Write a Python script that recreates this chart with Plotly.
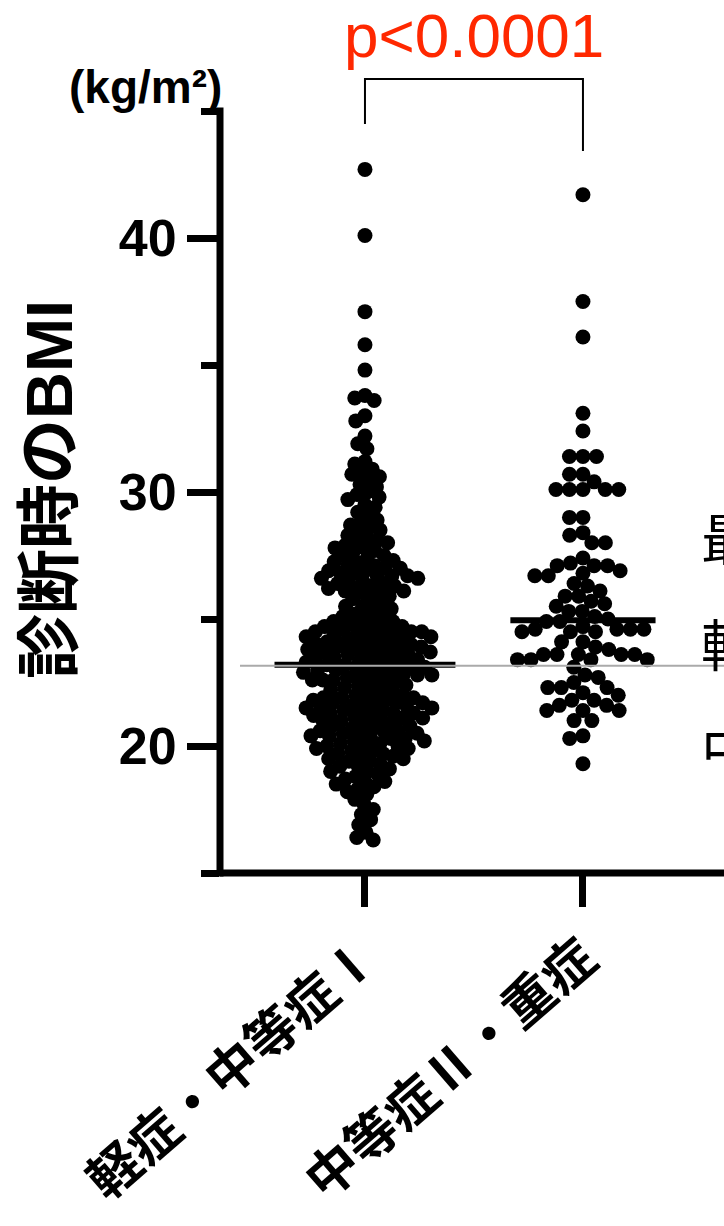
import math
import plotly.graph_objects as go

# ---------------- data ----------------
categories = ["軽症・中等症Ⅰ", "中等症Ⅱ・重症"]

bmi_mild = [
    42.7, 40.1, 37.1, 35.8, 34.8, 33.8, 33.7, 33.6, 33.0, 32.8, 32.2, 31.9, 31.7, 31.2, 31.1, 30.8,
    30.9, 30.7, 30.6, 30.5, 30.3, 30.2, 30.0,
    29.9, 29.8, 29.7, 29.5, 29.4, 29.2, 29.1, 28.9, 28.8, 28.7,
    28.6, 28.5, 28.4, 28.3, 28.2, 28.1, 28.0, 28.0, 27.9, 27.8, 27.8, 27.7, 27.6, 27.5, 27.5, 27.4, 27.3,
    27.25, 27.2, 27.1, 27.1, 27.0, 27.0, 26.9, 26.9, 26.8, 26.8, 26.7, 26.7, 26.7, 26.6, 26.6, 26.5,
    26.5, 26.4, 26.4, 26.3, 26.3, 26.2, 26.2, 26.1, 26.1, 26.0, 26.0,
    25.9, 25.8, 25.7, 25.6, 25.5, 25.5, 25.4, 25.3, 25.2, 25.1, 25.1, 25.0, 24.9, 24.9, 24.8, 24.8,
    24.7, 24.7,
    24.6, 24.6, 24.6, 24.5, 24.5, 24.5, 24.4, 24.4, 24.4, 24.3, 24.3, 24.3, 24.2, 24.2, 24.1, 24.1,
    24.1, 24.0, 24.0, 24.0, 23.9, 23.9, 23.9, 23.8, 23.8, 23.8, 23.7, 23.7, 23.7, 23.6, 23.6, 23.6,
    23.5, 23.5, 23.5, 23.4,
    23.4, 23.3, 23.3, 23.3, 23.2, 23.2, 23.2, 23.1, 23.1, 23.1, 23.0, 23.0, 23.0, 22.9, 22.9, 22.9,
    22.8, 22.8, 22.8, 22.7, 22.7, 22.7, 22.6, 22.6, 22.6, 22.5, 22.5, 22.4, 22.4, 22.3, 22.3, 22.2,
    22.2, 22.1,
    22.0, 22.0, 22.0, 21.9, 21.9, 21.9, 21.8, 21.8, 21.8, 21.7, 21.7, 21.7, 21.6, 21.6, 21.6, 21.5,
    21.5, 21.5, 21.4, 21.4, 21.4, 21.3, 21.3, 21.3, 21.2, 21.2, 21.1, 21.1, 21.1, 21.0, 21.0, 21.0,
    20.9, 20.9, 20.8, 20.8,
    20.7, 20.7, 20.6, 20.6, 20.6, 20.5, 20.5, 20.5, 20.4, 20.4, 20.3, 20.3, 20.3, 20.2, 20.2, 20.1,
    20.1, 20.0, 20.0, 20.0, 19.9, 19.9, 19.8, 19.8, 19.7, 19.7, 19.6, 19.6, 19.5, 19.5,
    19.4, 19.4, 19.3, 19.2, 19.2, 19.1, 19.0, 19.0, 18.9, 18.8, 18.7, 18.6, 18.6, 18.5, 18.4, 18.3,
    18.2,
    18.1, 17.9, 17.7, 17.5, 17.3, 17.1, 16.9,
    16.6, 16.4, 16.3,
]

bmi_severe = [
    41.7, 37.5, 36.1, 33.1, 32.4, 31.4, 31.4, 31.4, 30.7, 30.7, 30.4, 30.1, 30.1, 30.1, 30.1, 30.1,
    29.0, 29.0, 28.4, 28.3, 28.0, 28.0, 27.4, 27.2, 27.1, 27.1, 27.1, 26.9, 26.8, 26.7, 26.7, 26.4,
    26.3, 26.1, 25.9, 25.9, 25.7, 25.6, 25.5, 25.3, 25.3, 25.1, 25.0, 24.9, 24.9, 24.7, 24.6, 24.6,
    24.6, 24.6, 24.5, 24.5, 24.5, 24.1, 24.1, 23.9, 23.8, 23.6, 23.6, 23.6, 23.6, 23.6, 23.4, 23.4,
    23.4, 23.4, 23.1, 22.8, 22.7, 22.5, 22.3, 22.3, 22.3, 22.1, 22.0, 21.8, 21.8, 21.6, 21.6, 21.4,
    21.4, 21.4, 21.0, 21.0, 20.4, 20.3, 19.3,
]

medians = [23.2, 24.95]
reference_line = 23.16
p_text = "p<0.0001"
y_ticks = [20, 30, 40]
right_labels = ["最", "軽", "中"]

# ---------------- layout geometry ----------------
W, H = 724, 1226
ML, MR, MT, MB = 220, 0, 111, 353
plot_w = W - ML - MR
plot_h = H - MT - MB
y_range = [15, 45]
x_range = [-0.665, 1.647]
ypx = plot_h / (y_range[1] - y_range[0])
xpx = plot_w / (x_range[1] - x_range[0])


def fx(px):
    return (px - ML) / plot_w


def fy(py):
    return (H - MB - py) / plot_h


def swarm(vals, diam):
    order = sorted(range(len(vals)), key=lambda i: -vals[i])
    placed = []
    xs = [0.0] * len(vals)
    for i in order:
        y = vals[i] * ypx
        near = [(px, py) for px, py in placed if abs(py - y) < diam]
        cands = [0.0]
        for px, py in near:
            dx = math.sqrt(diam ** 2 - (py - y) ** 2)
            cands += [px + dx, px - dx]
        cands.sort(key=lambda c: (abs(c), c))
        for c in cands:
            if all((c - px) ** 2 + (y - py) ** 2 >= diam ** 2 - 1e-6 for px, py in near):
                xs[i] = c
                placed.append((c, y))
                break
    return [x / xpx for x in xs]


fig = go.Figure()
for gi, (vals, diam) in enumerate([(bmi_mild, 10.5), (bmi_severe, 13.5)]):
    offs = swarm(vals, diam)
    fig.add_trace(go.Scatter(
        x=[gi + o for o in offs], y=vals, mode="markers",
        marker=dict(size=15, color="black", line=dict(width=0)),
        showlegend=False, hoverinfo="y"))

bar_half = [0.415, 0.333]
for gi, m in enumerate(medians):
    fig.add_trace(go.Scatter(
        x=[gi - bar_half[gi], gi + bar_half[gi]], y=[m, m], mode="lines",
        line=dict(color="black", width=6), showlegend=False, hoverinfo="skip"))

fig.add_trace(go.Scatter(
    x=[x_range[0] + 20 / xpx, x_range[1] + 1], y=[reference_line, reference_line],
    mode="lines", line=dict(color="#aaaaaa", width=2), showlegend=False, hoverinfo="skip"))

latin_jp = "Liberation Sans, Arial, Noto Sans CJK JP, sans-serif"

fig.update_layout(
    width=W, height=H, autosize=False,
    margin=dict(l=ML, r=MR, t=MT, b=MB, pad=0, autoexpand=False),
    paper_bgcolor="white", plot_bgcolor="white",
    showlegend=False,
    xaxis=dict(
        range=x_range, showgrid=False, zeroline=False, showline=False, automargin=False,
        tickmode="array", tickvals=[0, 1], ticktext=categories,
        ticks="outside", ticklen=33, tickwidth=7, tickcolor="black",
        tickangle=-41,
        tickfont=dict(family="Noto Sans CJK JP, sans-serif", size=52, color="black", weight="bold"),
    ),
    yaxis=dict(
        range=y_range, showgrid=False, zeroline=False, showline=False, automargin=False,
        tickmode="array", tickvals=y_ticks,
        ticks="outside", ticklen=32, tickwidth=7, tickcolor="black",
        tickfont=dict(family=latin_jp, size=52, color="black", weight="bold"),
        minor=dict(ticks="outside", ticklen=18, tickwidth=7, tickcolor="black",
                   tickmode="array", tickvals=[15, 25, 35, 45]),
    ),
)

# axis lines
fig.add_shape(type="line", xref="paper", yref="paper", x0=0, x1=0,
              y0=-3.5 / plot_h, y1=1 + 3.5 / plot_h, line=dict(color="black", width=7))
fig.add_shape(type="line", xref="paper", yref="paper", x0=0, x1=1.05,
              y0=0, y1=0, line=dict(color="black", width=7))

# significance bracket
fig.add_shape(type="path", xref="x", yref="paper",
              path=f"M 0,{fy(124)} L 0,{fy(79)} L 1,{fy(79)} L 1,{fy(151)}",
              line=dict(color="black", width=2))

fig.add_annotation(x=fx(474), y=fy(36), xref="paper", yref="paper", text=p_text,
                   showarrow=False, xanchor="center", yanchor="middle",
                   font=dict(family="Liberation Sans, Arial, sans-serif", size=62, color="#ff2800"))

fig.add_annotation(x=fx(145), y=fy(87), xref="paper", yref="paper", text="(kg/m²)",
                   showarrow=False, xanchor="center", yanchor="middle",
                   font=dict(family=latin_jp, size=46, color="black", weight="bold"))

fig.add_annotation(x=fx(49), y=fy(490), xref="paper", yref="paper", text="診断時のBMI",
                   showarrow=False, xanchor="center", yanchor="middle", textangle=-90,
                   font=dict(family=latin_jp, size=65, color="black", weight="bold"))

for lab, py in zip(right_labels, [535, 641, 745]):
    fig.add_annotation(x=fx(699), y=fy(py), xref="paper", yref="paper", text=lab,
                       showarrow=False, xanchor="left", yanchor="middle",
                       font=dict(family="Noto Sans CJK JP, sans-serif", size=56, color="black"))

fig.write_html(
    "out.html",
    config={"displayModeBar": False},
    post_script="document.body.style.margin='0';"
                "document.documentElement.style.overflow='hidden';",
)
